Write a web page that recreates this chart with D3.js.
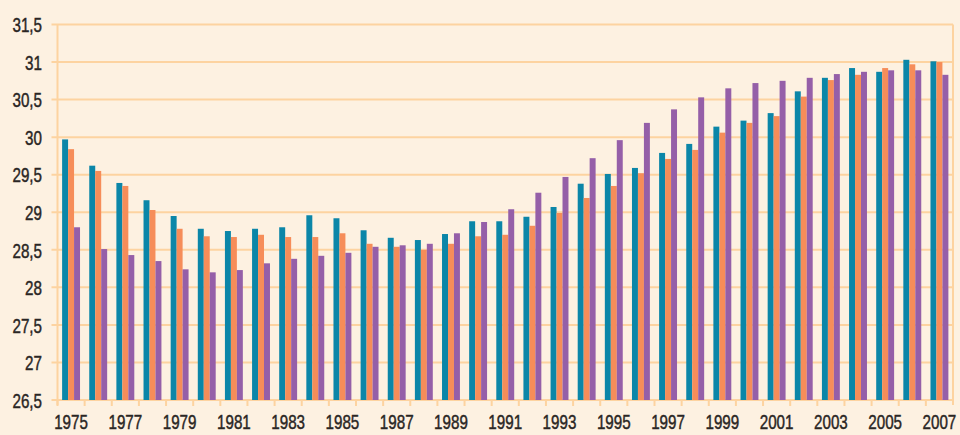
<!DOCTYPE html>
<html>
<head>
<meta charset="utf-8">
<script src="https://cdn.jsdelivr.net/npm/d3@7"></script>
<style>
  body { margin: 0; background: #fdf1e1; }
  svg { display: block; }
  .axis text {
    font-family: "Liberation Sans", Arial, sans-serif;
    font-size: 20px;
    fill: #2a2624;
    stroke: #2a2624;
    stroke-width: 0.45;
  }
  .grid line, .frame { stroke: #fdd3a0; stroke-width: 2; fill: none; }
  .axis path { display: none; }
  .axis line { stroke: #fdd3a0; stroke-width: 2; }
</style>
</head>
<body>
<svg id="chart"></svg>
<script>
const years = d3.range(1975, 2008).map(String);
const series = ['teal', 'orange', 'purple'];

const tealValues = [29.97, 29.62, 29.39, 29.16, 28.95, 28.78, 28.75, 28.78, 28.80, 28.96,
  28.92, 28.76, 28.66, 28.63, 28.71, 28.88, 28.88, 28.94, 29.07, 29.38,
  29.51, 29.59, 29.79, 29.91, 30.14, 30.22, 30.32, 30.61, 30.79, 30.92,
  30.87, 31.03, 31.01];
const orangeValues = [29.84, 29.55, 29.35, 29.03, 28.78, 28.68, 28.67, 28.70, 28.67, 28.67,
  28.72, 28.58, 28.54, 28.50, 28.58, 28.68, 28.70, 28.82, 28.99, 29.19,
  29.35, 29.52, 29.71, 29.83, 30.06, 30.19, 30.28, 30.54, 30.76, 30.83,
  30.92, 30.97, 31.00];
const purpleValues = [28.80, 28.51, 28.43, 28.35, 28.24, 28.20, 28.23, 28.32, 28.38, 28.42,
  28.46, 28.54, 28.56, 28.58, 28.72, 28.87, 29.04, 29.26, 29.47, 29.72,
  29.96, 30.19, 30.37, 30.53, 30.65, 30.72, 30.75, 30.79, 30.84, 30.87,
  30.89, 30.89, 30.83];
const yTicks = [26.5, 27, 27.5, 28, 28.5, 29, 29.5, 30, 30.5, 31, 31.5];
const yearLabels = years.filter((d, i) => i % 2 === 0);

const colors = { teal: '#0b86a8', orange: '#f68d59', purple: '#955fa8' };
const valuesBySeries = { teal: tealValues, orange: orangeValues, purple: purpleValues };

const width = 960, height = 435;
const margin = { top: 24.5, right: 7, bottom: 35, left: 57.5 };
const innerW = width - margin.left - margin.right;
const innerH = height - margin.top - margin.bottom;
const squeeze = 0.76; // fake a condensed face

const data = years.map((y, i) => ({
  year: y,
  values: series.map(s => ({ key: s, value: valuesBySeries[s][i] }))
}));

const x0 = d3.scaleBand()
  .domain(years)
  .range([0, innerW])
  .paddingInner(0.34)
  .paddingOuter(0.17);

const x1 = d3.scaleBand()
  .domain(series)
  .range([0, x0.bandwidth()]);

const y = d3.scaleLinear()
  .domain([26.5, 31.5])
  .range([innerH, 0]);

const svg = d3.select('#chart')
  .attr('width', width)
  .attr('height', height);

const chart = svg.append('g')
  .attr('transform', `translate(${margin.left},${margin.top})`);

// horizontal grid, extended left as tick marks
chart.append('g')
    .attr('class', 'grid')
  .selectAll('line')
  .data(yTicks)
  .enter().append('line')
    .attr('x1', -6)
    .attr('x2', innerW)
    .attr('y1', d => y(d))
    .attr('y2', d => y(d));

// left axis and right frame line
chart.append('line').attr('class', 'frame')
  .attr('x1', 0).attr('x2', 0).attr('y1', 0).attr('y2', innerH + 5);
chart.append('line').attr('class', 'frame')
  .attr('x1', innerW).attr('x2', innerW).attr('y1', 0).attr('y2', innerH + 5);

// tick marks between year groups
const step = x0.step();
chart.append('g')
    .attr('class', 'grid')
  .selectAll('line')
  .data(years)
  .enter().append('line')
    .attr('x1', d => x0(d) - step * 0.17)
    .attr('x2', d => x0(d) - step * 0.17)
    .attr('y1', innerH)
    .attr('y2', innerH + 6);

// bars
chart.append('g')
  .selectAll('g')
  .data(data)
  .enter().append('g')
    .attr('transform', d => `translate(${x0(d.year)},0)`)
  .selectAll('rect')
  .data(d => d.values)
  .enter().append('rect')
    .attr('x', d => x1(d.key))
    .attr('y', d => y(d.value))
    .attr('width', x1.bandwidth())
    .attr('height', d => innerH - y(d.value))
    .attr('fill', d => colors[d.key]);

// y axis labels
const fmt = d => String(d).replace('.', ',');
chart.append('g')
    .attr('class', 'axis')
    .call(d3.axisLeft(y).tickValues(yTicks).tickFormat(fmt).tickSize(0))
  .selectAll('text')
    .attr('x', -15.5 / squeeze)
    .attr('dy', '0.36em')
    .attr('transform', `scale(${squeeze},1)`);

// x axis labels
chart.append('g')
    .attr('class', 'axis')
    .attr('transform', `translate(0,${innerH})`)
    .call(d3.axisBottom(x0).tickValues(yearLabels).tickSize(0).tickPadding(15))
  .selectAll('text')
    .attr('dy', '0.71em')
    .attr('transform', `scale(${squeeze},1)`);
</script>
</body>
</html>
